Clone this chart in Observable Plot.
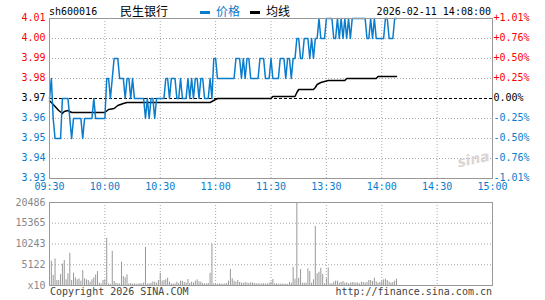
<!DOCTYPE html>
<html><head><meta charset="utf-8">
<script src="https://cdn.jsdelivr.net/npm/d3@7"></script>
<script src="https://cdn.jsdelivr.net/npm/@observablehq/plot@0.6"></script>
<style>
body{margin:0;background:#fff;}
#wrap{position:relative;width:545px;height:300px;overflow:hidden;font-family:"DejaVu Sans Mono",monospace;background:#fff;}
.t{position:absolute;white-space:nowrap;line-height:1;}
.cjk{font-family:"Noto Sans CJK SC",sans-serif;}
</style></head><body>
<div id="wrap">
  <div id="price" style="position:absolute;left:0;top:0"></div>
  <div id="vol" style="position:absolute;left:0;top:196px"></div>
  <span class="t" style="left:49px;top:7px;font-size:10px;color:#000">sh600016</span>
  <span class="t cjk" style="left:120px;top:5px;font-size:12px;color:#000">民生银行</span>
  <span class="t" style="left:200px;top:11px;width:10px;height:2.5px;background:#0a7ccc"></span>
  <span class="t cjk" style="left:216px;top:5px;font-size:12px;color:#0a7ccc">价格</span>
  <span class="t" style="left:250px;top:11px;width:10px;height:2.5px;background:#000"></span>
  <span class="t cjk" style="left:266px;top:5px;font-size:12px;color:#000">均线</span>
  <span class="t" style="right:54px;top:7px;font-size:10px;color:#000">2026-02-11 14:08:00</span>
  <span class="t" style="left:457px;top:152px;font-size:14px;font-style:italic;font-weight:bold;color:#dcd4d4;font-family:'DejaVu Sans';transform:rotate(-12deg)">sina</span>
  <span class="t" style="left:50px;top:287px;font-size:10px;color:#444">Copyright 2026 SINA.COM</span>
  <span class="t" style="right:53px;top:287px;font-size:10px;color:#444">http://finance.sina.com.cn</span>
</div>
<script>
// ---- data ----
const prevClose = 3.97;
const priceTicks = [3.93, 3.94, 3.95, 3.96, 3.97, 3.98, 3.99, 4.00, 4.01];
const priceTickLabels = ["3.93", "3.94", "3.95", "3.96", "3.97", "3.98", "3.99", "4.00", "4.01"];
const pctTickLabels = ["-1.01%", "-0.76%", "-0.50%", "-0.25%", "0.00%", "+0.25%", "+0.50%", "+0.76%", "+1.01%"];
const timeTicks = [0, 30, 60, 90, 120, 150, 180, 210, 240];
const timeLabels = ["09:30", "10:00", "10:30", "11:00", "11:30", "13:30", "14:00", "14:30", "15:00"];
const volTicks = [0, 5122, 10243, 15365, 20486];
const volTickLabels = ["x10", "5122", "10243", "15365", "20486"];

// minute prices, 09:30 .. 14:08 (index = trading minute)
const price = [
  3.97,3.98,3.96,3.95,3.95,3.95,3.95,3.97,3.97,3.97,
  3.97,3.96,3.95,3.96,3.96,3.96,3.96,3.96,3.95,3.96,
  3.96,3.96,3.96,3.96,3.97,3.96,3.96,3.96,3.96,3.96,
  3.96,3.98,3.98,3.97,3.98,3.99,3.99,3.99,3.98,3.98,
  3.98,3.97,3.98,3.98,3.97,3.98,3.97,3.97,3.97,3.97,
  3.97,3.97,3.96,3.97,3.96,3.97,3.97,3.96,3.97,3.97,
  3.97,3.97,3.97,3.98,3.98,3.97,3.98,3.98,3.98,3.97,
  3.97,3.98,3.97,3.97,3.97,3.98,3.97,3.98,3.97,3.98,
  3.98,3.97,3.98,3.98,3.97,3.97,3.97,3.98,3.97,3.99,
  3.99,3.98,3.98,3.98,3.98,3.98,3.98,3.98,3.98,3.98,
  3.98,3.99,3.99,3.99,3.98,3.99,3.98,3.99,3.99,3.98,
  3.98,3.98,3.98,3.98,3.99,3.99,3.99,3.98,3.98,3.98,
  3.99,3.98,3.98,3.98,3.98,3.99,3.99,3.99,3.98,3.99,
  3.99,3.98,3.99,3.99,4.00,4.00,3.99,3.99,4.00,4.00,
  4.00,3.99,4.00,3.99,4.00,4.00,4.01,4.00,4.00,4.00,
  4.01,4.01,4.01,4.01,4.00,4.00,4.01,4.00,4.01,4.00,
  4.01,4.00,4.01,4.00,4.01,4.01,4.01,4.01,4.01,4.01,
  4.01,4.01,4.00,4.00,4.01,4.00,4.01,4.00,4.00,4.00,
  4.00,4.00,4.01,4.01,4.00,4.00,4.00,4.01,4.01
];

// average price line, read at its break points
const avgIdx = [0,1,2,3,5,7,8,10,12,30,32,35,37,40,42,87,89,91,120,121,133,134,135,143,144,145,147,151,160,161,177,178,188];
const avgVal = [3.9688,3.968,3.967,3.966,3.964,3.9625,3.9635,3.964,3.963,3.963,3.9645,3.965,3.9665,3.9675,3.968,3.968,3.969,3.970,3.970,3.971,3.971,3.973,3.9745,3.9745,3.9755,3.977,3.978,3.979,3.979,3.980,3.980,3.981,3.981];

// minute volume (x10)
const volume = [
  1600,6000,2500,6550,1230,1230,2700,5300,6150,1400,
  2870,7950,1230,3030,1880,1400,1640,1070,3690,1640,
  1400,1230,820,1400,1880,2620,3440,570,400,1230,
  1400,11630,400,250,8440,980,570,400,400,5730,
  2200,1880,2620,400,450,350,400,300,350,450,
  400,600,9400,400,400,570,900,800,570,1230,
  3030,1070,1230,1400,1800,820,400,350,400,820,
  500,1070,1070,740,600,1470,500,820,600,1070,
  1400,900,820,500,400,400,500,3030,10240,400,
  350,300,400,350,300,400,500,1070,4000,1640,
  1070,820,1230,740,600,500,700,600,500,650,
  600,500,400,450,350,400,450,350,400,570,
  800,1470,400,400,330,330,330,330,330,250,
  740,570,4500,1560,20486,1800,3930,570,570,570,
  4100,3440,570,1400,14580,2870,3280,4260,2700,400,
  1640,4340,400,400,820,1070,1070,570,740,980,
  570,650,400,570,740,650,570,650,400,820,
  740,570,740,1230,1230,980,1800,900,570,740,
  1070,1400,1560,1230,820,570,740,1070,1560
];

// ---- drawing ----
const RED = "#ff0000", BLUE = "#0a7ccc", BLACK = "#000000", GRID = "#a8a8a8";
const priceData = price.map((p, i) => ({i, p}));
const avgData = avgIdx.map((i, k) => ({i, a: avgVal[k]}));
const volData = volume.map((v, i) => ({i, v}));
const pk = priceTicks.map((_, k) => k);
const up = pk.filter(k => priceTicks[k] > prevClose + 1e-9);
const dn = pk.filter(k => priceTicks[k] < prevClose - 1e-9);
const eq = pk.filter(k => Math.abs(priceTicks[k] - prevClose) < 1e-9);
const tk = timeTicks.map((_, k) => k);
const vk = volTicks.map((_, k) => k);

function labels(ks, fill) {
  return [
    Plot.text(ks, {y: k => priceTicks[k], text: k => priceTickLabels[k], frameAnchor: "left", textAnchor: "end", dx: -4, dy: -1, fill}),
    Plot.text(ks, {y: k => priceTicks[k], text: k => pctTickLabels[k], frameAnchor: "right", textAnchor: "start", dx: 1, dy: -1, fill})
  ];
}

const pricePlot = Plot.plot({
  width: 545, height: 196,
  marginLeft: 49, marginRight: 53, marginTop: 18, marginBottom: 18,
  x: {domain: [0, 240], axis: null},
  y: {domain: [3.93, 4.01], axis: null},
  style: {fontFamily: "DejaVu Sans Mono", fontSize: "10px", background: "transparent", overflow: "visible"},
  marks: [
    Plot.ruleY(priceTicks.filter(v => v > 3.93 && v < 4.01 && Math.abs(v - prevClose) > 1e-9), {stroke: GRID, strokeDasharray: "1,2"}),
    Plot.ruleX(timeTicks.slice(1, -1), {stroke: GRID, strokeDasharray: "1,2"}),
    Plot.ruleY([prevClose], {stroke: BLACK, strokeDasharray: "3,2"}),
    Plot.line(avgData, {x: "i", y: "a", stroke: BLACK, strokeWidth: 1.5}),
    Plot.line(priceData, {x: "i", y: "p", stroke: BLUE, strokeWidth: 1.5}),
    Plot.frame({stroke: "#999"}),
    ...labels(up, RED), ...labels(eq, BLACK), ...labels(dn, BLUE),
    Plot.text(tk, {x: k => timeTicks[k], text: k => timeLabels[k], frameAnchor: "bottom", dy: 11, fill: BLUE})
  ]
});
document.getElementById("price").appendChild(pricePlot);

const volPlot = Plot.plot({
  width: 545, height: 104,
  marginLeft: 49, marginRight: 53, marginTop: 6, marginBottom: 15,
  x: {domain: [0, 240], axis: null},
  y: {domain: [0, 20486], axis: null},
  style: {fontFamily: "DejaVu Sans Mono", fontSize: "10px", background: "transparent", overflow: "visible"},
  marks: [
    Plot.ruleY(volTicks.slice(1, -1), {stroke: GRID, strokeDasharray: "1,2"}),
    Plot.ruleX(timeTicks.slice(1, -1), {stroke: GRID, strokeDasharray: "1,2"}),
    Plot.ruleX(volData, {x: "i", y1: 0, y2: "v", stroke: "#999"}),
    Plot.frame({stroke: "#999"}),
    Plot.text(vk, {y: k => volTicks[k], text: k => volTickLabels[k], frameAnchor: "left", textAnchor: "end", dx: -4, fill: "#888"})
  ]
});
document.getElementById("vol").appendChild(volPlot);
</script>
</body></html>
